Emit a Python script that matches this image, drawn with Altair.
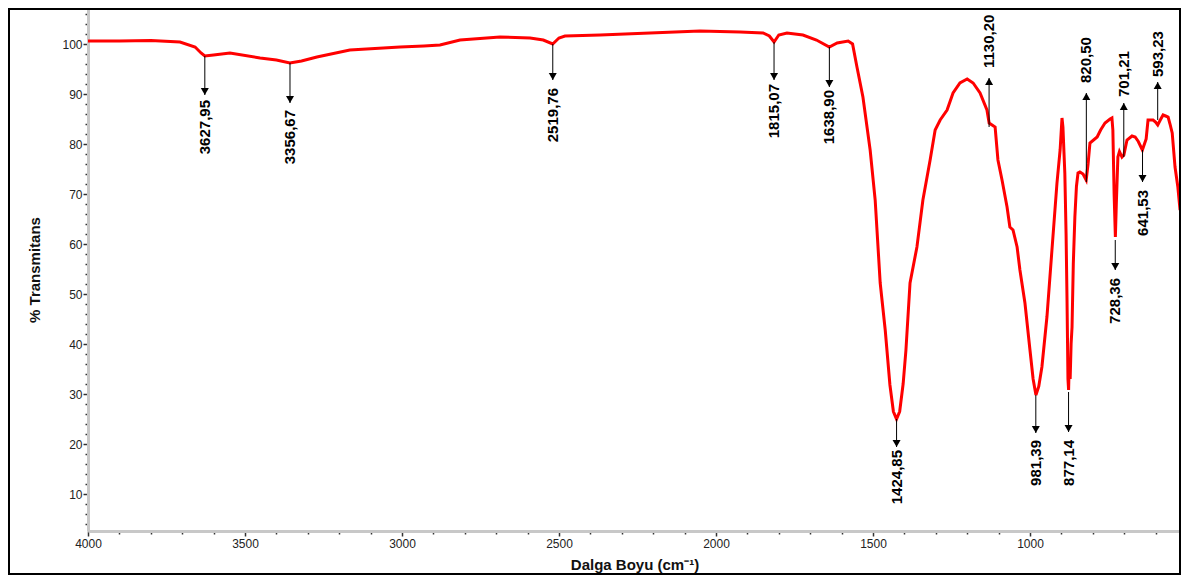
import altair as alt
import pandas as pd

# ---- spectrum (wavenumber cm-1, % transmittance) ----
wavenumber = [4000, 3900, 3800, 3707, 3659, 3640, 3628, 3600, 3548, 3452, 3400, 3357, 3320, 3271,
              3166, 3006, 2930, 2879, 2815, 2688, 2592, 2550, 2520, 2500, 2481, 2369, 2210, 2051,
              1923, 1850, 1830, 1815, 1800, 1774, 1723, 1680, 1639, 1614, 1579, 1565, 1551, 1532,
              1509, 1493, 1477, 1461, 1446, 1435, 1425, 1415, 1404, 1395, 1382, 1360, 1341, 1318,
              1302, 1286, 1264, 1245, 1223, 1200, 1181, 1159, 1137, 1130, 1111, 1102, 1089, 1073,
              1064, 1054, 1041, 1032, 1016, 1000, 990, 981, 972, 962, 946, 930, 914, 904, 898, 895,
              889, 885, 882, 879, 877, 875, 872, 869, 866, 862, 857, 852, 847, 841, 831, 821, 815,
              809, 786, 775, 761, 745, 739, 736, 732, 728, 725, 720, 715, 707, 701, 691, 675, 665,
              655, 642, 630, 624, 608, 600, 593, 585, 576, 568, 560, 554, 547, 538, 529, 522]
transmittance = [100.6, 100.6, 100.7, 100.4, 99.4, 98.2, 97.6, 97.8, 98.2, 97.2, 96.8, 96.2, 96.6, 97.4,
                 98.8, 99.4, 99.6, 99.8, 100.8, 101.4, 101.2, 100.8, 100.0, 101.2, 101.6, 101.8, 102.2, 102.6,
                 102.4, 102.2, 101.6, 100.4, 101.8, 102.2, 101.8, 100.8, 99.4, 100.2, 100.6, 100.0, 95.4, 89.4,
                 78.8, 68.8, 52.2, 42.8, 31.8, 26.5, 25.0, 26.5, 32.0, 38.8, 52.2, 59.4, 68.8, 76.8,
                 82.8, 84.8, 86.8, 90.2, 92.2, 93.0, 92.2, 90.2, 86.8, 84.2, 83.4, 76.8, 72.8, 67.4,
                 63.4, 62.8, 59.4, 54.8, 48.2, 38.8, 33.0, 29.8, 31.5, 35.4, 45.4, 58.8, 72.2, 78.8, 85.2, 83.4,
                 74.2, 62.0, 48.8, 33.0, 30.8, 36.0, 33.0, 40.0, 43.4, 56.0, 65.4, 71.5, 74.2, 74.4, 74.0, 72.8, 76.0,
                 80.2, 81.4, 82.8, 84.2, 85.0, 85.2, 82.8, 70.0, 61.4, 68.0, 77.4, 78.5, 77.4, 77.8, 80.8, 81.6, 81.4,
                 80.5, 78.8, 81.0, 84.8, 84.8, 84.4, 83.8, 84.8, 85.8, 85.6, 85.4, 84.0, 82.2, 75.4, 71.4, 66.8]

# ---- peak annotations ----
peak_wn = [3627.95, 3356.67, 2519.76, 1815.07, 1638.90, 1424.85, 981.39, 877.14,
           1130.20, 820.50, 701.21, 593.23, 641.53, 728.36]
peak_label = ["3627,95", "3356,67", "2519,76", "1815,07", "1638,90", "1424,85", "981,39", "877,14",
              "1130,20", "820,50", "701,21", "593,23", "641,53", "728,36"]
peak_dir = ["down", "down", "down", "down", "down", "down", "down", "down",
            "up", "up", "up", "up", "down", "down"]
arrow_start = [97.6, 96.2, 100.0, 100.4, 99.4, 25.0, 29.8, 30.4, 83.4, 72.4, 77.4, 84.8, 78.8, 60.8]
arrow_tip = [89.8, 88.2, 92.8, 92.8, 91.4, 19.4, 22.2, 22.4, 93.2, 90.2, 88.2, 92.4, 72.4, 54.8]
label_pos = [88.8, 86.8, 91.2, 92.0, 90.8, 18.8, 20.8, 20.8, 95.2, 92.2, 89.4, 93.4, 70.8, 53.2]

# ---- axis ticks ----
x_ticks = list(range(600, 4001, 100))
y_ticks = list(range(4, 107, 2))

spec = pd.DataFrame({"wn": wavenumber, "T": transmittance})
ann = pd.DataFrame({"wn": peak_wn, "label": peak_label, "dir": peak_dir,
                    "start": arrow_start, "tip": arrow_tip, "lab": label_pos})
ann_down = ann[ann["dir"] == "down"]
ann_up = ann[ann["dir"] == "up"]

X_DOMAIN = [519, 4000]
Y_DOMAIN = [2.6, 107.2]
xscale = alt.Scale(domain=X_DOMAIN, reverse=True, nice=False, zero=False)
yscale = alt.Scale(domain=Y_DOMAIN, nice=False, zero=False)

FONT = "Liberation Sans"

x_axis = alt.Axis(
    title="Dalga Boyu (cm⁻¹)", values=x_ticks, format="d",
    labelExpr="datum.value % 500 === 0 ? datum.label : ''",
    tickSize={"condition": {"test": "datum.value % 500 === 0", "value": 5}, "value": 3},
    labelFlush=False, labelOverlap=False, labelBound=False,
    labelFont=FONT, labelFontSize=12, labelColor="#222", labelPadding=2,
    titleFont=FONT, titleFontSize=15, titleFontWeight="bold", titleColor="#111",
    titlePadding=8,
    domainColor="#c8c8c8", domainWidth=3, tickColor="#333", tickWidth=1.5, grid=False,
)
y_axis = alt.Axis(
    title="% Transmitans", values=y_ticks, format="d",
    labelExpr="datum.value % 10 === 0 ? datum.label : ''",
    tickSize={"condition": {"test": "datum.value % 10 === 0", "value": 5}, "value": 3},
    labelOverlap=False, labelBound=False,
    labelFont=FONT, labelFontSize=12, labelColor="#222", labelPadding=1,
    titleFont=FONT, titleFontSize=15, titleFontWeight="bold", titleColor="#111",
    titlePadding=19,
    domainColor="#c8c8c8", domainWidth=3, tickColor="#333", tickWidth=1.5, grid=False,
)


def X(field):
    return alt.X(field, type="quantitative", scale=xscale, axis=x_axis)


def Y(field):
    return alt.Y(field, type="quantitative", scale=yscale, axis=y_axis)


line = alt.Chart(spec).mark_line(color="#ff0000", strokeWidth=3).encode(
    x=X("wn"), y=Y("T"),
    order=alt.Order("wn:Q", sort="descending"),
)

rules = alt.Chart(ann).mark_rule(color="#000", strokeWidth=1).encode(
    x=X("wn"), y=Y("start"), y2="tip:Q",
)

heads_down = alt.Chart(ann_down).mark_point(
    shape="triangle-down", filled=True, size=64, color="#000", opacity=1, yOffset=-3.5
).encode(x=X("wn"), y=Y("tip"))
heads_up = alt.Chart(ann_up).mark_point(
    shape="triangle-up", filled=True, size=64, color="#000", opacity=1, yOffset=3.5
).encode(x=X("wn"), y=Y("tip"))

text_down = alt.Chart(ann_down).mark_text(
    angle=270, align="right", baseline="middle", font=FONT, fontSize=15,
    fontWeight="bold", color="#000"
).encode(x=X("wn"), y=Y("lab"), text="label:N")
text_up = alt.Chart(ann_up).mark_text(
    angle=270, align="left", baseline="middle", font=FONT, fontSize=15,
    fontWeight="bold", color="#000"
).encode(x=X("wn"), y=Y("lab"), text="label:N")

frame = alt.Chart(pd.DataFrame({"f": [0]})).mark_rect(
    fill=None, stroke="#000", strokeWidth=2
).encode(
    x=alt.value(-79), x2=alt.value(1092), y=alt.value(1), y2=alt.value(566)
)

chart = alt.layer(line, rules, heads_down, heads_up, text_down, text_up, frame).properties(
    width=1093, height=523, autosize="none",
    padding={"left": 80, "top": 0, "right": 0, "bottom": 46},
).configure_view(stroke=None)

chart.save("out.html", embed_options={"renderer": "svg", "actions": False})
